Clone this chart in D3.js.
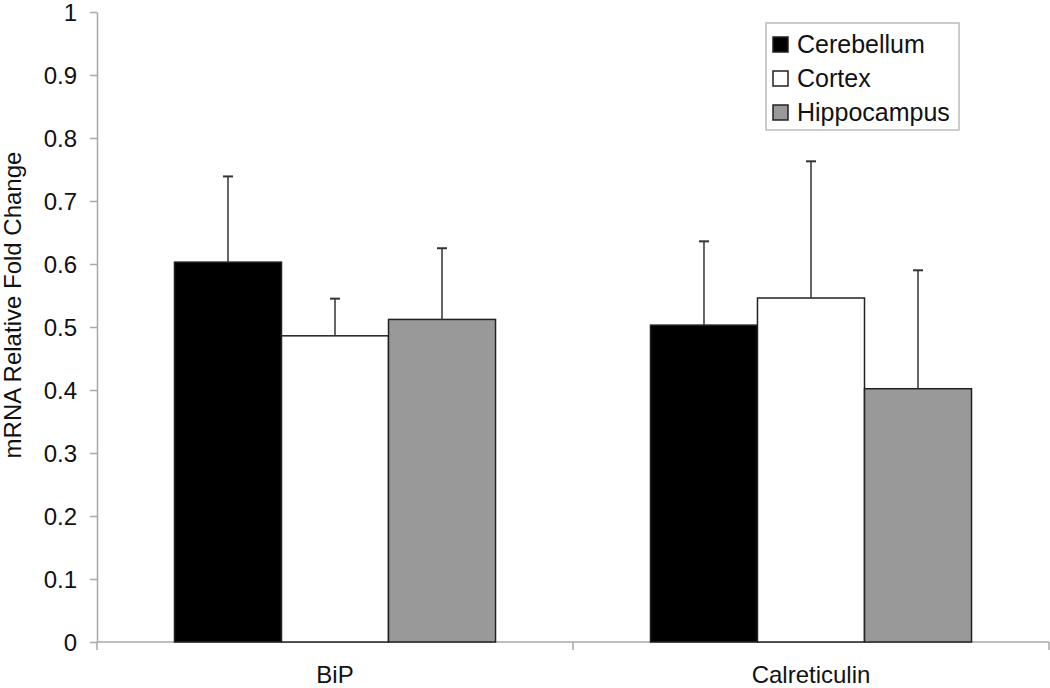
<!DOCTYPE html>
<html>
<head>
<meta charset="utf-8">
<script src="https://cdn.jsdelivr.net/npm/d3@7"></script>
<style>
  body { margin: 0; background: #fff; }
  text { font-family: "Liberation Sans", Arial, sans-serif; fill: #111; }
</style>
</head>
<body>
<div id="chart"></div>
<script>
// data
var genes = ["BiP", "Calreticulin"];
var regions = ["Cerebellum", "Cortex", "Hippocampus"];
var meanBiP = [0.603, 0.486, 0.512];
var meanCalreticulin = [0.503, 0.546, 0.402];
var errBiP = [0.136, 0.059, 0.113];
var errCalreticulin = [0.133, 0.217, 0.188];
var yTicks = [0, 0.1, 0.2, 0.3, 0.4, 0.5, 0.6, 0.7, 0.8, 0.9, 1];

var colors = { Cerebellum: "#000000", Cortex: "#ffffff", Hippocampus: "#999999" };

var rows = genes.map(function(g, i) {
    var m = i === 0 ? meanBiP : meanCalreticulin;
    var e = i === 0 ? errBiP : errCalreticulin;
    return { gene: g, values: regions.map(function(r, j) {
        return { region: r, mean: m[j], err: e[j] };
    }) };
});

var W = 1050, H = 688;
var plotLeft = 97, plotRight = 1049, plotTop = 12, plotBottom = 642;

var svg = d3.select("#chart")
    .append("svg")
    .attr("width", W)
    .attr("height", H);

var x0 = d3.scaleBand()
    .domain(genes)
    .range([plotLeft, plotRight])
    .paddingInner(0)
    .paddingOuter(0);

var x1 = d3.scaleBand()
    .domain(regions)
    .range([0, x0.bandwidth()])
    .paddingInner(0)
    .paddingOuter(0.724);

var y = d3.scaleLinear()
    .domain([0, 1])
    .range([plotBottom, plotTop]);

// Y axis
var yAxis = svg.append("g")
    .attr("transform", "translate(" + plotLeft + ",0)")
    .call(d3.axisLeft(y).tickValues(yTicks).tickSize(7).tickSizeOuter(0)
        .tickFormat(function(d){ return d3.format("")(+d.toFixed(1)); }));
yAxis.select(".domain").attr("stroke", "#a8a8a8").attr("stroke-width", 1.5);
yAxis.selectAll(".tick line").attr("stroke", "#a8a8a8").attr("stroke-width", 1.5);
yAxis.selectAll(".tick text")
    .attr("x", -20)
    .attr("dy", "0.36em")
    .style("font-size", "24px")
    .style("font-family", "'Liberation Sans', Arial, sans-serif")
    .attr("fill", "#111");

// X axis
var xAxis = svg.append("g")
    .attr("transform", "translate(0," + plotBottom + ")");
xAxis.append("line")
    .attr("x1", plotLeft).attr("x2", plotRight)
    .attr("y1", 0).attr("y2", 0)
    .attr("stroke", "#a8a8a8").attr("stroke-width", 1.5);
var bounds = genes.map(function(g){ return x0(g); }).concat([plotRight]);
xAxis.selectAll(".xtick")
    .data(bounds)
    .enter().append("line")
    .attr("class", "xtick")
    .attr("x1", function(d){ return d; })
    .attr("x2", function(d){ return d; })
    .attr("y1", 0).attr("y2", 8)
    .attr("stroke", "#a8a8a8").attr("stroke-width", 1.5);
xAxis.selectAll(".xlabel")
    .data(genes)
    .enter().append("text")
    .attr("class", "xlabel")
    .attr("x", function(d){ return x0(d) + x0.bandwidth() / 2; })
    .attr("y", 41)
    .attr("text-anchor", "middle")
    .style("font-size", "24px")
    .text(function(d){ return d; });

// Y label
svg.append("text")
    .attr("transform", "translate(21," + ((plotTop + plotBottom) / 2 - 22) + ") rotate(-90)")
    .attr("text-anchor", "middle")
    .style("font-size", "24px")
    .text("mRNA Relative Fold Change");

// bars
var groups = svg.selectAll(".group")
    .data(rows)
    .enter().append("g")
    .attr("class", "group")
    .attr("transform", function(d){ return "translate(" + x0(d.gene) + ",0)"; });

groups.selectAll(".bar")
    .data(function(d){ return d.values; })
    .enter().append("rect")
    .attr("class", "bar")
    .attr("x", function(d){ return x1(d.region); })
    .attr("y", function(d){ return y(d.mean); })
    .attr("width", x1.bandwidth())
    .attr("height", function(d){ return y(0) - y(d.mean); })
    .attr("fill", function(d){ return colors[d.region]; })
    .attr("stroke", "#222")
    .attr("stroke-width", 1.5);

// error bars (upper only)
groups.selectAll(".err")
    .data(function(d){ return d.values; })
    .enter().append("line")
    .attr("class", "err")
    .attr("x1", function(d){ return x1(d.region) + x1.bandwidth() / 2; })
    .attr("x2", function(d){ return x1(d.region) + x1.bandwidth() / 2; })
    .attr("y1", function(d){ return y(d.mean); })
    .attr("y2", function(d){ return y(d.mean + d.err); })
    .attr("stroke", "#333")
    .attr("stroke-width", 1.5);

groups.selectAll(".cap")
    .data(function(d){ return d.values; })
    .enter().append("line")
    .attr("class", "cap")
    .attr("x1", function(d){ return x1(d.region) + x1.bandwidth() / 2 - 5; })
    .attr("x2", function(d){ return x1(d.region) + x1.bandwidth() / 2 + 5; })
    .attr("y1", function(d){ return y(d.mean + d.err); })
    .attr("y2", function(d){ return y(d.mean + d.err); })
    .attr("stroke", "#333")
    .attr("stroke-width", 2);

// legend
var legend = svg.append("g")
    .attr("transform", "translate(766,23)");
legend.append("rect")
    .attr("x", 0).attr("y", 0)
    .attr("width", 193).attr("height", 107)
    .attr("fill", "#fff")
    .attr("stroke", "#bbb")
    .attr("stroke-width", 1.5);
var items = legend.selectAll(".item")
    .data(regions)
    .enter().append("g")
    .attr("class", "item")
    .attr("transform", function(d, i){ return "translate(0," + (i * 34) + ")"; });
items.append("rect")
    .attr("x", 7).attr("y", 14)
    .attr("width", 15).attr("height", 15)
    .attr("fill", function(d){ return colors[d]; })
    .attr("stroke", "#222")
    .attr("stroke-width", 1.5);
items.append("text")
    .attr("x", 31).attr("y", 30)
    .style("font-size", "25px")
    .text(function(d){ return d; });
</script>
</body>
</html>
